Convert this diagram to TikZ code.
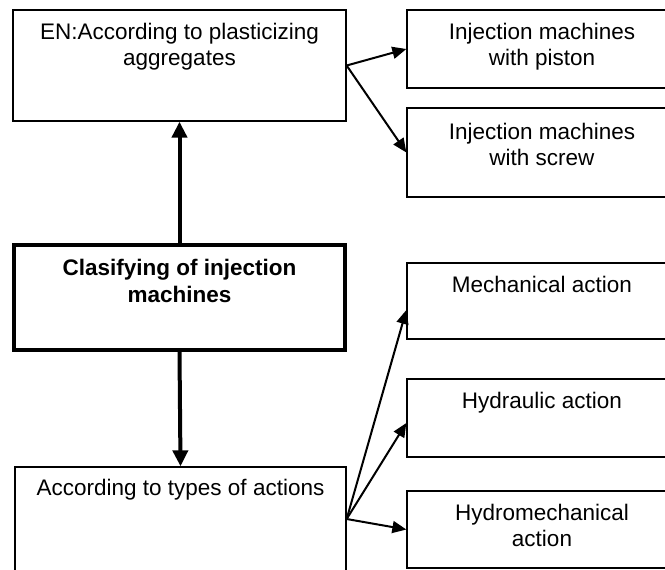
\documentclass[tikz,border=0pt]{standalone}
\usepackage{fontspec}
\setmainfont{Liberation Sans}
\usepackage{tikz}
\usetikzlibrary{arrows.meta,positioning}

\begin{document}
\begin{tikzpicture}[x=1pt, y=-1pt,
    box/.style={draw=black, line width=1.3pt, minimum width=#1, inner sep=0pt},
    mainbox/.style={draw=black, line width=4pt, minimum width=331pt, minimum height=105pt, inner sep=0pt},
    lbl/.style={inner sep=0pt, align=center, font=\fontsize{22.5}{25.5}\selectfont},
    thinarrow/.style={line width=2pt, -{Triangle[length=14pt, width=12pt]}},
    thickarrow/.style={line width=4pt, -{Triangle[length=16pt, width=15pt]}}]
        \useasboundingbox (0,0) rectangle (665,570);
        \clip (0,0) rectangle (665,570);
        % left column
        \node[box=333pt, minimum height=111pt] (plast) at (179.5,65.5) {};
        \node[mainbox] (central) at (179.5,297.5) {};
        \node[box=331pt, minimum height=104pt] (actions) at (180.5,519) {};
        % right column
        \node[box=270pt, minimum height=78pt] (piston) at (542,49) {};
        \node[box=270pt, minimum height=89pt] (screw) at (542,152.5) {};
        \node[box=270pt, minimum height=76pt] (mech) at (542,301) {};
        \node[box=270pt, minimum height=78pt] (hydr) at (542,418) {};
        \node[box=270pt, minimum height=77pt] (hydmech) at (542,529.5) {};
        % texts
        \node[lbl, below=14pt of plast.north] (plastText) {EN:According to plasticizing\\aggregates};
        \node[lbl, below=16pt of central.north, font=\fontsize{22.5}{26.5}\selectfont\bfseries] (centralText) {Clasifying of injection\\machines};
        \node[lbl, below=13pt of actions.north] (actionsText) {According to types of actions};
        \node[lbl, below=14pt of piston.north] (pistonText) {Injection machines\\with piston};
        \node[lbl, below=16pt of screw.north] (screwText) {Injection machines\\with screw};
        \node[lbl, below=14pt of mech.north] (mechText) {Mechanical action};
        \node[lbl, below=14pt of hydr.north] (hydrText) {Hydraulic action};
        \node[lbl, below=14pt of hydmech.north] (hydmechText) {Hydromechanical\\action};
        % connectors
        \draw[thickarrow] (central.north) -- (plast.south);
        \draw[thickarrow] (central.south) -- (actions.north);
        \draw[thinarrow] (plast.east) -- (piston.west);
        \draw[thinarrow] (plast.east) -- (screw.west);
        \draw[thinarrow] (actions.east) -- ([yshift=-9pt]mech.west);
        \draw[thinarrow] (actions.east) -- ([yshift=-5pt]hydr.west);
        \draw[thinarrow] (actions.east) -- (hydmech.west);
    \end{tikzpicture}
\end{document}
